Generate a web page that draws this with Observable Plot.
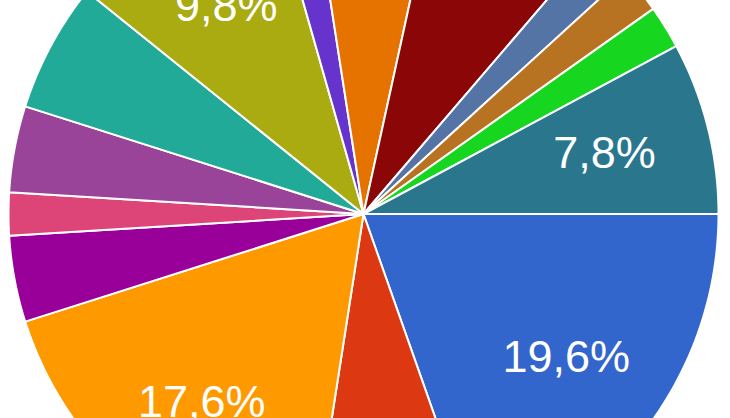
<!DOCTYPE html>
<html>
<head>
<meta charset="utf-8">
<script src="https://cdn.jsdelivr.net/npm/d3@7"></script>
<script src="https://cdn.jsdelivr.net/npm/@observablehq/plot@0.6"></script>
<style>
  html, body { margin: 0; padding: 0; background: #fff; overflow: hidden; }
  #chart svg { overflow: hidden; display: block; }
</style>
</head>
<body>
<div id="chart"></div>
<script>
// Slices in clockwise order starting at 3 o'clock (51 responses in total)
const slices = ["A","B","C","D","E","F","G","H","I","J","K","L","M","N","O"];
const counts = [10, 4, 9, 2, 1, 2, 3, 5, 1, 3, 4, 1, 1, 1, 4];
const colors = ["#3366cc","#dc3912","#ff9900","#990099","#dd4477","#994499","#22aa99",
                "#aaaa11","#6633cc","#e67300","#8b0707","#5574a6","#b77322","#16d620","#2a778d"];
// slices whose percentage text fits inside the wedge (others get no label)
const labelled = ["A", "C", "H", "O"];

const total = d3.sum(counts);
const fmt = v => (v / total * 100).toFixed(1).replace(".", ",") + "%";

// build slice outlines in unit-circle data space (angles clockwise on screen)
let acc = 0;
const pts = [];
const labels = [];
slices.forEach((s, i) => {
  const a0 = acc / total * 2 * Math.PI;
  acc += counts[i];
  const a1 = acc / total * 2 * Math.PI;
  pts.push({slice: s, x: 0, y: 0});
  const n = Math.max(2, Math.ceil((a1 - a0) / (Math.PI / 360)));
  for (let k = 0; k <= n; k++) {
    const a = a0 + (a1 - a0) * k / n;
    pts.push({slice: s, x: Math.cos(a), y: -Math.sin(a)});
  }
  pts.push({slice: s, x: 0, y: 0});
  if (labelled.includes(s)) {
    const am = (a0 + a1) / 2;
    labels.push({slice: s, x: 0.7 * Math.cos(am), y: -0.7 * Math.sin(am), text: fmt(counts[i])});
  }
});

const W = 730, H = 418, cx = 363, cy = 213.5, R = 355;
const chart = Plot.plot({
  width: W,
  height: H,
  margin: 0,
  x: {domain: [-cx / R, (W - cx) / R], axis: null},
  y: {domain: [-(H - cy) / R, cy / R], axis: null},
  color: {domain: slices, range: colors},
  marks: [
    Plot.line(pts, {x: "x", y: "y", z: "slice", fill: "slice", stroke: "white",
                    strokeWidth: 2, strokeLinejoin: "round"}),
    Plot.text(labels, {x: "x", y: "y", text: "text", fill: "white", fontSize: 45,
                       fontFamily: "Arial, 'Liberation Sans', sans-serif"})
  ]
});
document.getElementById("chart").appendChild(chart);
</script>
</body>
</html>
